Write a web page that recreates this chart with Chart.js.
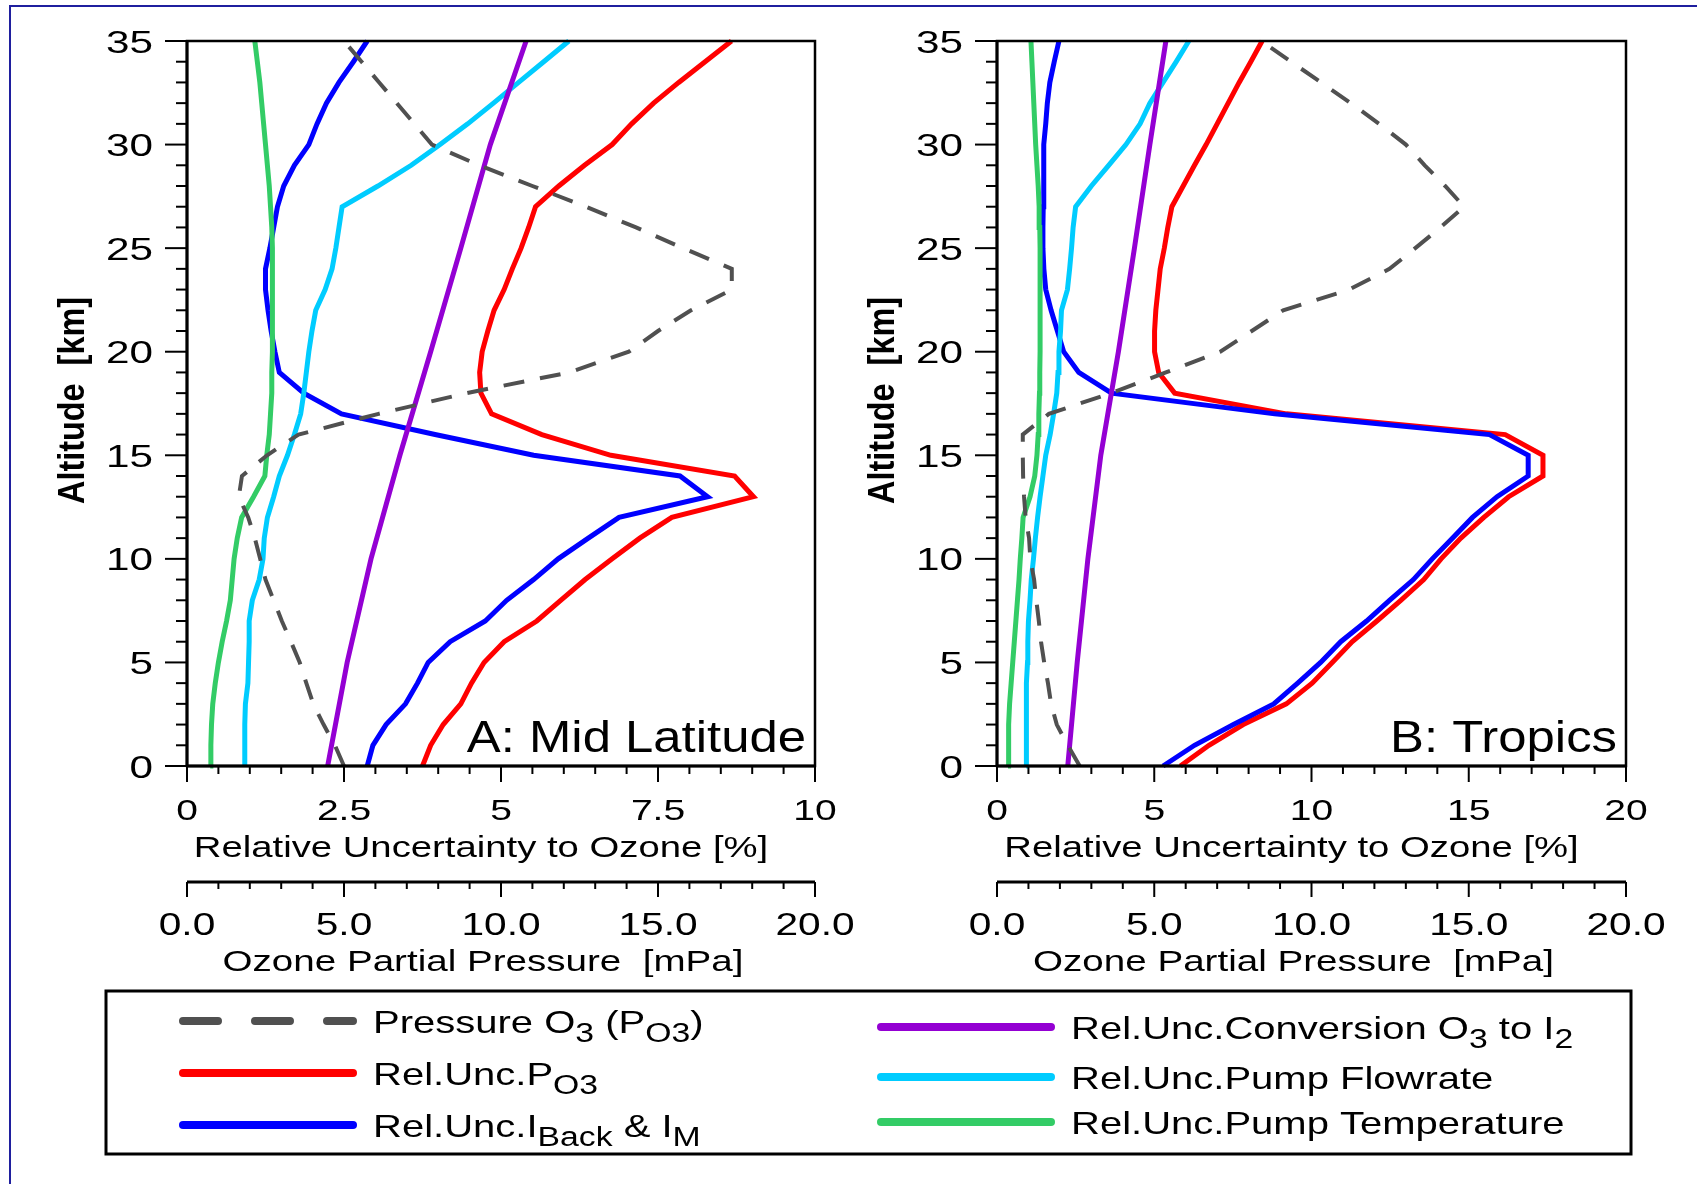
<!DOCTYPE html>
<html>
<head>
<meta charset="utf-8">
<title>Relative uncertainty of ozonesonde measurements</title>
<script src="https://cdn.jsdelivr.net/npm/chart.js@4.4.1/dist/chart.umd.min.js"></script>
<style>
  html, body { margin: 0; padding: 0; background: #ffffff; }
  body { width: 1697px; height: 1184px; position: relative; overflow: hidden; }
  canvas { position: absolute; left: 0; top: 0; }
  #frame { position: absolute; left: 9px; top: 5px; width: 1720px; height: 1220px;
           border-top: 2px solid #1f1f9e; border-left: 2px solid #1f1f9e; }
</style>
</head>
<body>
<div id="frame"></div>
<canvas id="midlat" width="1697" height="1184"></canvas>
<canvas id="tropics" width="1697" height="1184"></canvas>
<script>
// ---------- altitude grids (km) ----------
const altitudeKm = [0, 1, 2, 3, 4, 5, 6, 7, 8, 9, 10, 11, 12, 13, 14, 15, 16, 17,
                    18, 19, 20, 21, 22, 23, 24, 25, 26, 27, 28, 29, 30, 31, 32, 33, 34, 35];
const conversionAltKm = [0, 5, 10, 15, 20, 25, 30, 35];

// ---------- A: Mid Latitude ----------
// ozone partial pressure [mPa]
const midLatPressure = [5.0, 4.71, 4.35, 4.02, 3.80, 3.59, 3.31, 3.02, 2.76, 2.50, 2.33, 2.16,
  1.95, 1.65, 1.75, 2.55, 3.55, 6.1, 8.9, 12.17, 14.07, 15.0, 16.05, 17.35, 17.35, 15.8,
  14.3, 12.7, 11.0, 9.3, 7.8, 7.24, 6.68, 6.12, 5.56, 5.0];
// relative uncertainties [%]
const midLatUncPO3 = [3.75, 3.88, 4.08, 4.36, 4.53, 4.73, 5.05, 5.57, 5.95, 6.34, 6.77, 7.21,
  7.72, 9.02, 8.72, 6.75, 5.65, 4.85, 4.68, 4.66, 4.70, 4.79, 4.89, 5.05, 5.18, 5.32,
  5.44, 5.55, 5.92, 6.33, 6.77, 7.08, 7.43, 7.83, 8.25, 8.67];
const midLatUncCurrent = [2.87, 2.96, 3.17, 3.48, 3.67, 3.84, 4.19, 4.75, 5.09, 5.52, 5.91, 6.39,
  6.88, 8.29, 7.85, 5.52, 3.95, 2.46, 1.86, 1.47, 1.40, 1.34, 1.29, 1.25, 1.25, 1.32,
  1.38, 1.44, 1.54, 1.71, 1.94, 2.07, 2.22, 2.42, 2.65, 2.87];
const midLatUncConversion = [2.24, 2.55, 2.93, 3.39, 3.88, 4.36, 4.83, 5.40];
const midLatUncFlow = [0.92, 0.92, 0.92, 0.93, 0.97, 0.98, 0.99, 0.99, 1.04, 1.15, 1.21, 1.23,
  1.28, 1.38, 1.47, 1.60, 1.71, 1.81, 1.86, 1.90, 1.94, 1.99, 2.05, 2.20, 2.31, 2.37,
  2.42, 2.47, 3.04, 3.57, 4.03, 4.47, 4.88, 5.28, 5.68, 6.08];
const midLatUncTemp = [0.37, 0.38, 0.39, 0.41, 0.45, 0.50, 0.56, 0.63, 0.69, 0.72, 0.75, 0.80,
  0.87, 1.06, 1.24, 1.27, 1.31, 1.33, 1.35, 1.35, 1.36, 1.36, 1.36, 1.36, 1.36, 1.36,
  1.35, 1.33, 1.31, 1.28, 1.25, 1.22, 1.19, 1.16, 1.12, 1.08];

// ---------- B: Tropics ----------
const tropicsPressure = [2.63, 2.25, 1.90, 1.72, 1.62, 1.50, 1.40, 1.33, 1.25, 1.18, 1.06, 1.02,
  0.91, 0.86, 0.83, 0.82, 0.82, 1.65, 3.62, 5.37, 7.10, 8.10, 9.10, 11.2, 12.48, 13.3,
  14.1, 14.85, 14.25, 13.6, 13.0, 12.15, 11.25, 10.3, 9.35, 8.4];
const tropicsUncPO3 = [5.83, 6.74, 7.83, 9.20, 10.02, 10.66, 11.29, 12.08, 12.84, 13.57, 14.12, 14.75,
  15.48, 16.27, 17.36, 17.36, 16.16, 9.20, 5.65, 5.14, 5.01, 5.01, 5.05, 5.12, 5.19, 5.32,
  5.43, 5.56, 5.92, 6.28, 6.65, 7.0, 7.35, 7.7, 8.07, 8.43];
const tropicsUncCurrent = [5.28, 6.28, 7.52, 8.80, 9.56, 10.29, 10.93, 11.75, 12.48, 13.24, 13.84, 14.48,
  15.12, 15.9, 16.89, 16.89, 15.66, 8.83, 3.64, 2.60, 2.12, 1.92, 1.72, 1.55, 1.49, 1.46,
  1.46, 1.47, 1.48, 1.49, 1.49, 1.55, 1.60, 1.68, 1.82, 1.97];
const tropicsUncConversion = [2.25, 2.55, 2.89, 3.30, 3.86, 4.37, 4.86, 5.37];
const tropicsUncFlow = [0.93, 0.93, 0.93, 0.93, 0.95, 0.97, 0.98, 1.0, 1.05, 1.09, 1.16, 1.22,
  1.29, 1.37, 1.46, 1.55, 1.69, 1.80, 1.90, 1.94, 1.97, 2.02, 2.05, 2.24, 2.31, 2.37,
  2.42, 2.50, 3.0, 3.55, 4.10, 4.55, 4.86, 5.28, 5.70, 6.10];
const tropicsUncTemp = [0.35, 0.36, 0.38, 0.40, 0.45, 0.50, 0.55, 0.60, 0.65, 0.70, 0.74, 0.79,
  0.83, 1.05, 1.20, 1.27, 1.31, 1.33, 1.35, 1.36, 1.37, 1.37, 1.37, 1.37, 1.37, 1.37,
  1.36, 1.34, 1.31, 1.27, 1.23, 1.20, 1.17, 1.14, 1.11, 1.08];

// ---------- tick labels ----------
const altTickValues = [0, 5, 10, 15, 20, 25, 30, 35];
const altTickLabels = ['0', '5', '10', '15', '20', '25', '30', '35'];
const midLatUncTickValues = [0, 2.5, 5, 7.5, 10];
const midLatUncTickLabels = ['0', '2.5', '5', '7.5', '10'];
const tropicsUncTickValues = [0, 5, 10, 15, 20];
const tropicsUncTickLabels = ['0', '5', '10', '15', '20'];
const pressureTickValues = [0, 5, 10, 15, 20];
const pressureTickLabels = ['0.0', '5.0', '10.0', '15.0', '20.0'];

// ---------- legend text (segments: [text, subscript?]) ----------
const seriesNames = [
  [['Pressure O', 0], ['3', 1], [' (P', 0], ['O3', 1], [')', 0]],
  [['Rel.Unc.P', 0], ['O3', 1]],
  [['Rel.Unc.I', 0], ['Back', 1], [' & I', 0], ['M', 1]],
  [['Rel.Unc.Conversion O', 0], ['3', 1], [' to I', 0], ['2', 1]],
  [['Rel.Unc.Pump Flowrate', 0]],
  [['Rel.Unc.Pump Temperature', 0]]
];

// ---------- styling ----------
const FONT = '"Liberation Sans", Arial, Helvetica, sans-serif';
const seriesStyle = [
  { color: '#505050', width: 4, dash: [21, 16], order: 0, axis: 'x2' },
  { color: '#ff0000', width: 5, dash: [], order: 5, axis: 'x' },
  { color: '#0000ff', width: 5, dash: [], order: 4, axis: 'x' },
  { color: '#9400d3', width: 5, dash: [], order: 1, axis: 'x' },
  { color: '#00ccff', width: 5, dash: [], order: 3, axis: 'x' },
  { color: '#33cc66', width: 5, dash: [], order: 2, axis: 'x' }
];

function putText(ctx, str, x, y, size, sx, align, weight) {
  ctx.save();
  ctx.font = (weight ? weight + ' ' : '') + size + 'px ' + FONT;
  ctx.textAlign = align || 'left';
  ctx.textBaseline = 'alphabetic';
  ctx.translate(x, y);
  ctx.scale(sx, 1);
  ctx.fillText(str, 0, 0);
  ctx.restore();
}

function seg(ctx, x1, y1, x2, y2) {
  ctx.beginPath(); ctx.moveTo(x1, y1); ctx.lineTo(x2, y2); ctx.stroke();
}

function tickRun(min, max, step) {
  const out = [];
  const n = Math.round((max - min) / step);
  for (let i = 0; i <= n; i++) out.push(min + i * step);
  return out;
}

function isMajor(v, majors) {
  return majors.some(m => Math.abs(m - v) < 1e-6);
}

// frame, ticks, tick labels and titles of one panel
const panelAxes = {
  id: 'panelAxes',
  afterDatasetsDraw(chart, args, o) {
    const { ctx, chartArea: a } = chart;
    const xs = chart.scales.x, ps = chart.scales.x2, ys = chart.scales.y;
    const midX = (a.left + a.right) / 2;
    ctx.save();
    ctx.strokeStyle = '#000'; ctx.fillStyle = '#000'; ctx.lineCap = 'butt';

    // plot frame
    ctx.lineWidth = 2.5;
    ctx.strokeRect(a.left, a.top, a.right - a.left, a.bottom - a.top);
    ctx.lineWidth = 3;
    seg(ctx, a.left, a.top, a.left, a.bottom);
    seg(ctx, a.left, a.bottom, a.right, a.bottom);

    // altitude axis
    ctx.lineWidth = 2;
    tickRun(ys.min, ys.max, 1).forEach(v => {
      const py = ys.getPixelForValue(v);
      seg(ctx, a.left - (isMajor(v, o.altValues) ? 22 : 11), py, a.left, py);
    });
    o.altValues.forEach((v, i) => {
      putText(ctx, o.altLabels[i], a.left - 34, ys.getPixelForValue(v) + 11.5, 32, 1.32, 'right');
    });
    ctx.save();
    ctx.translate(a.left - 103, (a.top + a.bottom) / 2 - 3);
    ctx.rotate(-Math.PI / 2);
    ctx.scale(0.9, 1);
    ctx.font = 'bold 36px ' + FONT;
    ctx.textAlign = 'center';
    ctx.fillText('Altitude  [km]', 0, 0);
    ctx.restore();

    // relative uncertainty axis (bottom of frame)
    tickRun(xs.min, xs.max, o.uncMinor).forEach(v => {
      const px = xs.getPixelForValue(v);
      seg(ctx, px, a.bottom, px, a.bottom + (isMajor(v, o.uncValues) ? 16 : 8));
    });
    o.uncValues.forEach((v, i) => {
      putText(ctx, o.uncLabels[i], xs.getPixelForValue(v), a.bottom + 54, 30, 1.3, 'center');
    });
    putText(ctx, 'Relative Uncertainty to Ozone [%]', midX - 20, a.bottom + 91, 29, 1.32, 'center');

    // ozone partial pressure axis
    const py0 = a.bottom + 116;
    ctx.lineWidth = 3;
    seg(ctx, ps.left, py0, ps.right, py0);
    ctx.lineWidth = 2;
    tickRun(ps.min, ps.max, 1).forEach(v => {
      const px = ps.getPixelForValue(v);
      seg(ctx, px, py0, px, py0 + (isMajor(v, o.presValues) ? 15 : 7));
    });
    o.presValues.forEach((v, i) => {
      putText(ctx, o.presLabels[i], ps.getPixelForValue(v), a.bottom + 169, 32, 1.27, 'center');
    });
    putText(ctx, 'Ozone Partial Pressure  [mPa]', midX - 18, a.bottom + 205, 29, 1.33, 'center');

    // panel label
    putText(ctx, o.label, a.right - 9, a.bottom - 14, 45, 1.13, 'right');
    ctx.restore();
  }
};

// shared legend below both panels
const legendBox = {
  id: 'legendBox',
  afterDraw(chart) {
    const ctx = chart.ctx;
    ctx.save();
    ctx.strokeStyle = '#000';
    ctx.lineWidth = 3;
    ctx.strokeRect(106, 991, 1525, 163);
    const rowY = [[1021, 1073, 1125], [1027, 1077, 1122]];
    const lineX = [[183, 353], [881, 1051]];
    const textX = [373, 1071];
    seriesNames.forEach((parts, i) => {
      const col = i < 3 ? 0 : 1, row = i % 3;
      const y = rowY[col][row];
      const st = seriesStyle[i];
      ctx.save();
      ctx.strokeStyle = st.color;
      ctx.lineWidth = 8;
      ctx.lineCap = 'round';
      ctx.setLineDash(st.dash.length ? [35, 37] : []);
      seg(ctx, lineX[col][0], y, lineX[col][1], y);
      ctx.restore();
      let x = textX[col];
      const base = y + 11.5;
      ctx.fillStyle = '#000';
      parts.forEach(([txt, sub]) => {
        const size = sub ? 27 : 32;
        ctx.font = size + 'px ' + FONT;
        const w = ctx.measureText(txt).width * 1.25;
        putText(ctx, txt, x, base + (sub ? 9 : 0), size, 1.25, 'left');
        x += w;
      });
    });
    ctx.restore();
  }
};

function buildDatasets(pressure, uncP, uncCurrent, uncConv, uncFlow, uncTemp) {
  const series = [
    [altitudeKm, pressure], [altitudeKm, uncP], [altitudeKm, uncCurrent],
    [conversionAltKm, uncConv], [altitudeKm, uncFlow], [altitudeKm, uncTemp]
  ];
  return series.map(([alts, vals], i) => {
    const st = seriesStyle[i];
    return {
      label: seriesNames[i].map(p => p[0]).join(''),
      data: alts.map((h, k) => ({ x: vals[k], y: h })),
      xAxisID: st.axis,
      yAxisID: 'y',
      borderColor: st.color,
      borderWidth: st.width,
      borderDash: st.dash,
      borderCapStyle: 'butt',
      borderJoinStyle: 'miter',
      pointRadius: 0,
      tension: 0,
      fill: false,
      clip: false,
      order: st.order
    };
  });
}

function makePanel(id, datasets, area, uncMax, axesOpts, extraPlugins) {
  const W = 1697, H = 1184;
  return new Chart(document.getElementById(id), {
    type: 'line',
    data: { datasets },
    options: {
      responsive: false,
      animation: false,
      indexAxis: 'y',
      layout: { padding: { left: area.left, top: area.top, right: W - area.right, bottom: H - area.bottom } },
      scales: {
        x: { type: 'linear', min: 0, max: uncMax, display: false },
        x2: { type: 'linear', axis: 'x', min: 0, max: 20, display: false },
        y: { type: 'linear', min: 0, max: 35, display: false }
      },
      plugins: {
        legend: { display: false },
        tooltip: { enabled: false },
        panelAxes: axesOpts
      }
    },
    plugins: [panelAxes].concat(extraPlugins)
  });
}

makePanel('midlat',
  buildDatasets(midLatPressure, midLatUncPO3, midLatUncCurrent, midLatUncConversion, midLatUncFlow, midLatUncTemp),
  { left: 187, right: 815, top: 41, bottom: 766 }, 10,
  { label: 'A: Mid Latitude', altValues: altTickValues, altLabels: altTickLabels,
    uncValues: midLatUncTickValues, uncLabels: midLatUncTickLabels, uncMinor: 0.5,
    presValues: pressureTickValues, presLabels: pressureTickLabels },
  [legendBox]);

makePanel('tropics',
  buildDatasets(tropicsPressure, tropicsUncPO3, tropicsUncCurrent, tropicsUncConversion, tropicsUncFlow, tropicsUncTemp),
  { left: 997, right: 1626, top: 41, bottom: 766 }, 20,
  { label: 'B: Tropics', altValues: altTickValues, altLabels: altTickLabels,
    uncValues: tropicsUncTickValues, uncLabels: tropicsUncTickLabels, uncMinor: 1,
    presValues: pressureTickValues, presLabels: pressureTickLabels },
  []);
</script>
</body>
</html>
